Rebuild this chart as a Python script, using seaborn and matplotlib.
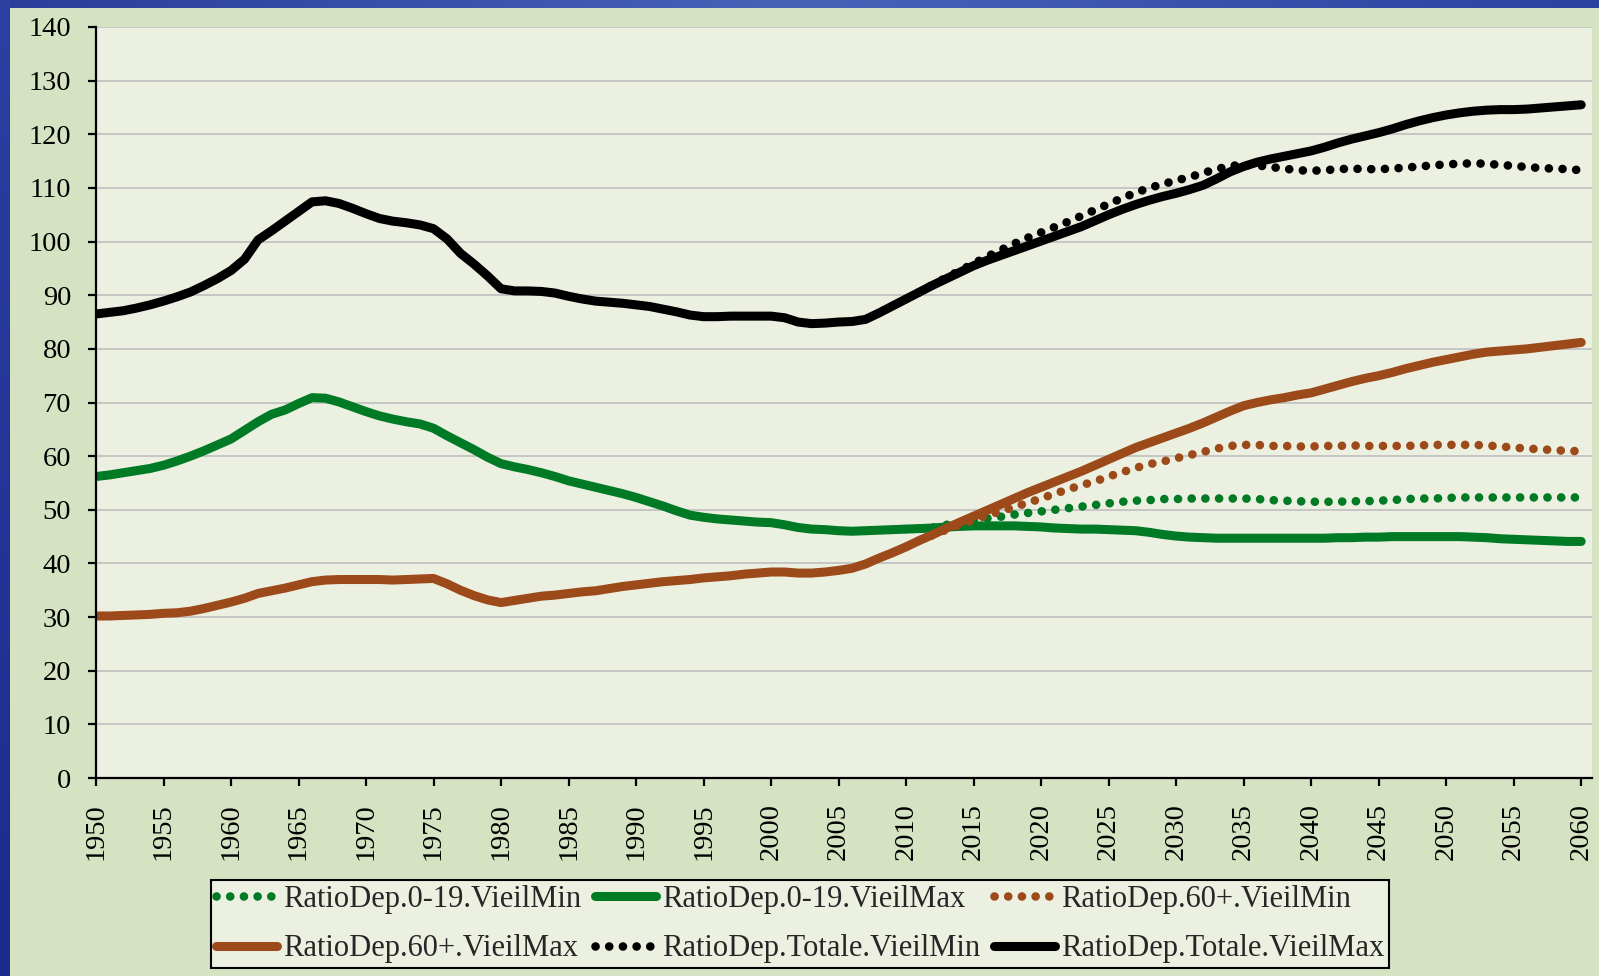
import numpy as np
import pandas as pd
import matplotlib

matplotlib.use("Agg")
import matplotlib.pyplot as plt
from matplotlib.colors import LinearSegmentedColormap
import seaborn as sns

sns.set(style="ticks")
plt.rcParams["font.family"] = ["Liberation Serif", "DejaVu Serif"]

# ---------------------------------------------------------------- data
years = list(range(1950, 2061))
proj_years = list(range(2010, 2061))

ratio_0_19_max = [
    56.2, 56.5, 56.9, 57.3, 57.7, 58.3, 59.1, 60.0, 61.0, 62.1,
    63.2, 64.8, 66.4, 67.8, 68.6, 69.8, 70.9, 70.8, 70.1, 69.2,
    68.3, 67.5, 66.9, 66.4, 66.0, 65.2, 63.8, 62.5, 61.2, 59.8,
    58.6, 58.0, 57.5, 56.9, 56.2, 55.4, 54.8, 54.2, 53.6, 53.0,
    52.3, 51.5, 50.7, 49.8, 49.0, 48.6, 48.3, 48.1, 47.9, 47.7,
    47.6, 47.2, 46.7, 46.4, 46.3, 46.1, 46.0, 46.1, 46.2, 46.3,
    46.4, 46.5, 46.6, 46.8, 46.9, 47.0, 47.0, 47.0, 47.0, 46.9,
    46.8, 46.6, 46.5, 46.4, 46.4, 46.3, 46.2, 46.1, 45.8, 45.4,
    45.1, 44.9, 44.8, 44.7, 44.7, 44.7, 44.7, 44.7, 44.7, 44.7,
    44.7, 44.7, 44.8, 44.8, 44.9, 44.9, 45.0, 45.0, 45.0, 45.0,
    45.0, 45.0, 44.9, 44.8, 44.6, 44.5, 44.4, 44.3, 44.2, 44.1,
    44.1,
]
ratio_0_19_min = [
    46.4, 46.5, 46.7, 47.2, 47.7, 48.1, 48.4, 48.7, 49.1, 49.4,
    49.7, 50.0, 50.3, 50.6, 50.9, 51.2, 51.5, 51.7, 51.8, 52.0,
    52.0, 52.1, 52.1, 52.1, 52.1, 52.1, 52.0, 51.8, 51.7, 51.6,
    51.5, 51.5, 51.5, 51.6, 51.6, 51.7, 51.8, 52.0, 52.1, 52.1,
    52.2, 52.3, 52.3, 52.3, 52.3, 52.3, 52.3, 52.3, 52.3, 52.3,
    52.3,
]
ratio_60_max = [
    30.2, 30.2, 30.3, 30.4, 30.5, 30.7, 30.8, 31.1, 31.6, 32.2,
    32.8, 33.5, 34.4, 34.9, 35.4, 36.0, 36.6, 36.9, 37.0, 37.0,
    37.0, 37.0, 36.9, 37.0, 37.1, 37.2, 36.2, 35.0, 34.0, 33.2,
    32.7, 33.1, 33.5, 33.9, 34.1, 34.4, 34.7, 34.9, 35.3, 35.7,
    36.0, 36.3, 36.6, 36.8, 37.0, 37.3, 37.5, 37.7, 38.0, 38.2,
    38.4, 38.4, 38.2, 38.2, 38.4, 38.7, 39.1, 39.9, 41.0, 42.0,
    43.1, 44.3, 45.4, 46.6, 47.7, 48.8, 49.9, 51.0, 52.1, 53.2,
    54.2, 55.2, 56.2, 57.2, 58.3, 59.4, 60.5, 61.6, 62.5, 63.4,
    64.3, 65.2, 66.2, 67.3, 68.4, 69.4, 70.0, 70.5, 70.9, 71.4,
    71.8, 72.5, 73.2, 73.9, 74.5, 75.0, 75.6, 76.3, 76.9, 77.5,
    78.0, 78.5, 79.0, 79.4, 79.6, 79.8, 80.0, 80.3, 80.6, 80.9,
    81.2,
]
ratio_60_min = [
    43.1, 44.3, 45.3, 46.3, 47.2, 48.1, 49.0, 49.7, 50.5, 51.3,
    52.1, 53.0, 53.8, 54.6, 55.3, 56.2, 57.0, 57.8, 58.5, 59.0,
    59.6, 60.2, 60.8, 61.4, 61.9, 62.1, 62.1, 61.9, 61.9, 61.8,
    61.8, 61.9, 61.9, 62.0, 61.9, 61.9, 61.9, 61.9, 62.0, 62.1,
    62.1, 62.1, 62.1, 62.0, 61.8, 61.6, 61.4, 61.3, 61.1, 61.0,
    60.9,
]
ratio_tot_max = [
    86.5, 86.8, 87.1, 87.6, 88.2, 88.9, 89.7, 90.6, 91.8, 93.1,
    94.6, 96.7, 100.3, 102.0, 103.8, 105.6, 107.4, 107.6, 107.1, 106.2,
    105.2, 104.3, 103.8, 103.5, 103.1, 102.4, 100.5, 97.8, 95.8, 93.6,
    91.2, 90.8, 90.8, 90.7, 90.4, 89.8, 89.3, 88.9, 88.7, 88.5,
    88.2, 87.9, 87.4, 86.9, 86.3, 86.0, 86.0, 86.1, 86.1, 86.1,
    86.1, 85.8, 85.0, 84.7, 84.8, 85.0, 85.1, 85.5, 86.7, 88.0,
    89.3, 90.6, 91.9, 93.1, 94.3, 95.5, 96.5, 97.4, 98.3, 99.2,
    100.1, 101.0, 101.9, 102.8, 103.9, 105.0, 106.0, 106.9, 107.7, 108.4,
    109.0, 109.7, 110.5, 111.7, 113.0, 114.0, 114.8, 115.4, 115.9, 116.4,
    116.9, 117.6, 118.4, 119.1, 119.7, 120.3, 121.0, 121.8, 122.5, 123.1,
    123.6, 124.0, 124.3, 124.5, 124.6, 124.6, 124.7, 124.9, 125.1, 125.3,
    125.5,
]
ratio_tot_min = [
    89.3, 90.6, 92.0, 93.3, 94.6, 95.9, 97.2, 98.4, 99.6, 100.7,
    101.7, 102.7, 103.7, 104.8, 105.9, 107.0, 108.1, 109.1, 110.0, 110.7,
    111.4, 112.0, 112.8, 113.5, 114.1, 114.3, 114.2, 113.9, 113.6, 113.3,
    113.2, 113.3, 113.5, 113.6, 113.5, 113.5, 113.6, 113.8, 114.0, 114.2,
    114.4, 114.5, 114.6, 114.5, 114.3, 114.1, 113.9, 113.7, 113.6, 113.5,
    113.3,
]

series = [
    ("RatioDep.0-19.VieilMin", proj_years, ratio_0_19_min, "#007a25", True),
    ("RatioDep.0-19.VieilMax", years, ratio_0_19_max, "#007a25", False),
    ("RatioDep.60+.VieilMin", proj_years, ratio_60_min, "#9c4a1a", True),
    ("RatioDep.60+.VieilMax", years, ratio_60_max, "#9c4a1a", False),
    ("RatioDep.Totale.VieilMin", proj_years, ratio_tot_min, "#000000", True),
    ("RatioDep.Totale.VieilMax", years, ratio_tot_max, "#000000", False),
]

# ---------------------------------------------------------------- figure
W, H = 1599, 976
outer_bg = "#d6e3c3"
plot_bg = "#ecf0e1"

fig = plt.figure(figsize=(W / 100, H / 100), dpi=100, facecolor=outer_bg)

# blue frame (top and left)
top = fig.add_axes([0, 1 - 8 / H, 1, 8 / H])
cmap_top = LinearSegmentedColormap.from_list("t", ["#2a3d9a", "#4862b8", "#2c42a0"])
top.imshow(np.linspace(0, 1, 256)[None, :], aspect="auto", cmap=cmap_top)
top.axis("off")
left = fig.add_axes([0, 0, 10 / W, 1])
cmap_left = LinearSegmentedColormap.from_list("l", ["#2b40a0", "#1b2b8c"])
left.imshow(np.linspace(0, 1, 256)[:, None], aspect="auto", cmap=cmap_left)
left.axis("off")

ax = fig.add_axes([96 / W, (H - 778) / H, (1592 - 96) / W, (778 - 27) / H])
ax.set_facecolor(plot_bg)

for name, xs, ys, color, dotted in series:
    df = pd.DataFrame({"year": xs, "value": ys})
    if dotted:
        sns.lineplot(data=df, x="year", y="value", ax=ax, color=color, lw=6.2,
                     linestyle=(0, (0.01, 1.58)), dash_capstyle="round",
                     label=name)
    else:
        sns.lineplot(data=df, x="year", y="value", ax=ax, color=color, lw=6.5,
                     solid_capstyle="round", label=name)

ax.set_xlim(1950, 2060.8)
ax.set_ylim(0, 140)
ax.set_xticks(range(1950, 2061, 5))
ax.set_yticks(range(0, 141, 10))
ax.set_xlabel("")
ax.set_ylabel("")
ax.grid(axis="y", color="#c2c2c2", lw=1.3)
ax.set_axisbelow(True)
for s in ["top", "right"]:
    ax.spines[s].set_visible(False)
for s in ["left", "bottom"]:
    ax.spines[s].set_linewidth(1.6)
    ax.spines[s].set_color("black")
ax.tick_params(axis="both", direction="out", length=6, width=1.6,
               labelsize=20.5, colors="black")
ax.tick_params(axis="y", pad=12)
ax.tick_params(axis="x", pad=12, labelrotation=90)

handles, labels = ax.get_legend_handles_labels()
order = [0, 3, 1, 4, 2, 5]
leg = fig.legend([handles[i] for i in order], [labels[i] for i in order],
                 ncol=3, loc="upper left", bbox_to_anchor=(211 / W, 1 - 880 / H),
                 fontsize=22, frameon=True, fancybox=False, facecolor=plot_bg,
                 edgecolor="black", framealpha=1, handlelength=2.0,
                 handletextpad=0.2, columnspacing=0.45, labelspacing=0.68,
                 borderpad=0.15, borderaxespad=0)
leg.get_frame().set_linewidth(1.5)
if ax.get_legend():
    ax.get_legend().remove()

fig.savefig("out.png", dpi=100, facecolor=outer_bg)
